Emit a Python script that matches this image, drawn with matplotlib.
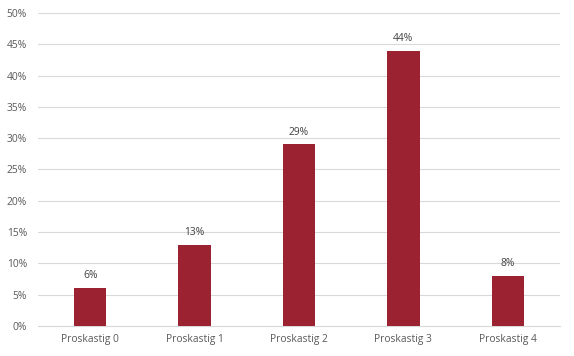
import numpy as np
import matplotlib.pyplot as plt
from matplotlib.ticker import PercentFormatter

# Data
categories = ["Proskastig 0", "Proskastig 1", "Proskastig 2", "Proskastig 3", "Proskastig 4"]
values = [6, 13, 29, 44, 8]
yticks = np.arange(0, 51, 5)

plt.rcParams['font.family'] = ['Open Sans', 'DejaVu Sans']

fig = plt.figure(figsize=(5.74, 3.56), dpi=100)
ax = fig.add_axes([0.0662, 0.0843, 0.9094, 0.8792])

x = np.arange(len(categories))
bars = ax.bar(x, values, width=0.31, color='#9B2230', zorder=3)

for b, v in zip(bars, values):
    ax.annotate(f"{v}%", (b.get_x() + b.get_width() / 2, v),
                xytext=(0, 5), textcoords='offset points',
                ha='center', va='bottom', fontsize=7.4, color='#404040')

ax.set_xlim(-0.5, len(categories) - 0.5)
ax.set_ylim(0, 50)
ax.set_yticks(yticks)
ax.yaxis.set_major_formatter(PercentFormatter(decimals=0))
ax.set_xticks(x)
ax.set_xticklabels(categories)
ax.tick_params(axis='both', length=0, labelsize=7.4, colors='#595959')
ax.tick_params(axis='y', pad=8)
ax.tick_params(axis='x', pad=6)

ax.grid(axis='y', color='#d9d9d9', linewidth=0.8, zorder=0)
for s in ['top', 'right', 'left']:
    ax.spines[s].set_visible(False)
ax.spines['bottom'].set_color('#d9d9d9')
ax.spines['bottom'].set_linewidth(0.8)

fig.savefig('out.png', dpi=100)
